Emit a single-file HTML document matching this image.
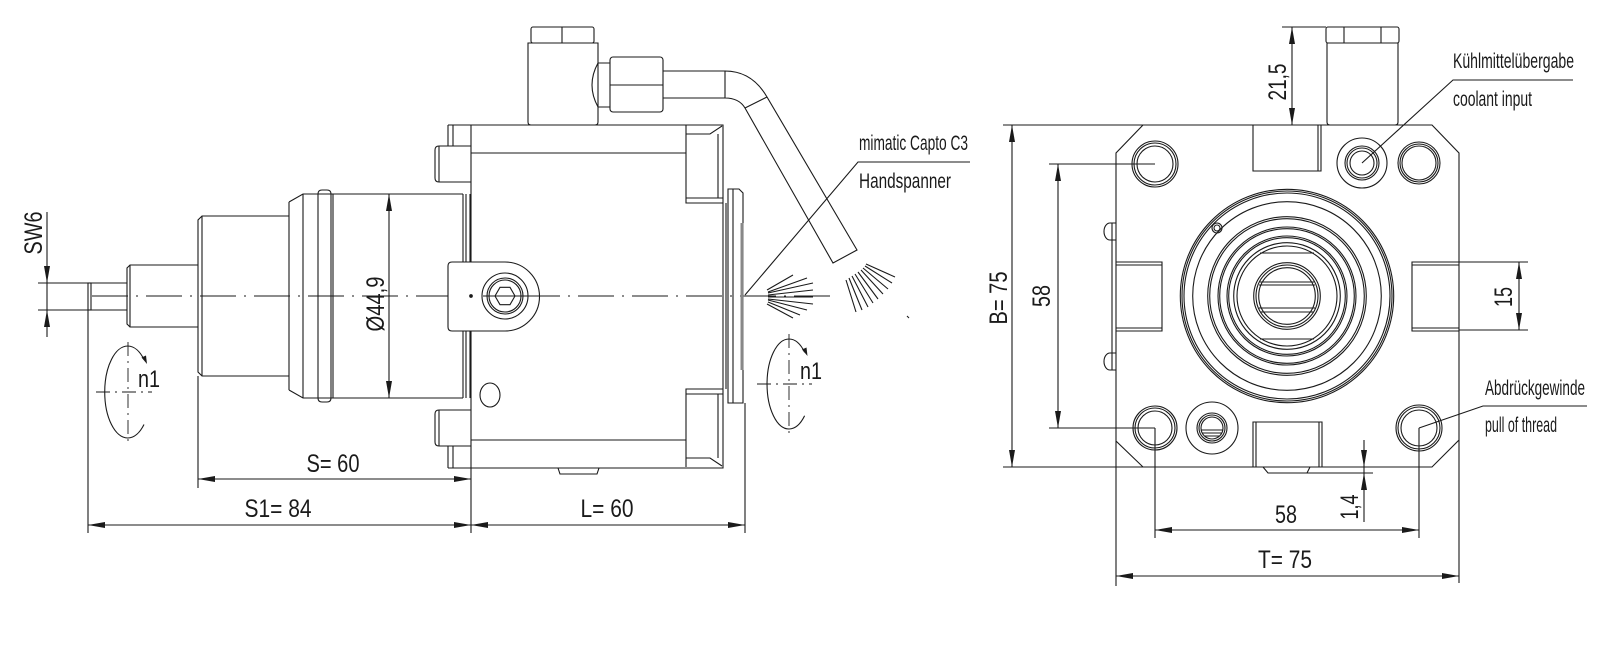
<!DOCTYPE html>
<html><head><meta charset="utf-8"><style>
html,body{margin:0;padding:0;background:#fff;}
svg{display:block;}
text{font-family:"Liberation Sans",sans-serif;fill:#1a1a1a;}
</style></head><body>
<svg width="1600" height="658" viewBox="0 0 1600 658" xmlns="http://www.w3.org/2000/svg">
<rect width="1600" height="658" fill="#fff"/>
<g fill="none" stroke="#1a1a1a" stroke-width="1.1">
<!-- ===== LEFT VIEW ===== -->
<line x1="92" y1="296" x2="838" y2="296" stroke-dasharray="36 8 2 8" stroke-width="0.9"/>
<!-- shaft -->
<rect x="88" y="283" width="3" height="27"/>
<path d="M38 283H127M38 310H127"/>
<!-- step1 -->
<path d="M198 265H130L127 268V324L130 327H198M130 265V327"/>
<!-- step2 -->
<path d="M289 216H202L198 220V372L202 376H289M202 216V376"/>
<!-- flange -->
<path d="M289 202L303 194H463M289 390L303 398H463M289 202V390M303 194V398M318 194V398M331 194V398M333 194V398"/>
<path d="M318 194Q318 190 322 190H327Q331 190 331 194M318 398Q318 402 322 402H327Q331 402 331 398"/>
<path d="M463 194V262M466 194V262M470 194V262M463 331V398M466 331V398M470 331V398"/>
<!-- lug -->
<path d="M452 262H505A34.5 34.5 0 0 1 505 331H452Q448 331 448 327V266Q448 262 452 262Z" fill="#fff"/>
<circle cx="505" cy="296" r="23"/><circle cx="505" cy="296" r="18"/><circle cx="505" cy="296" r="16"/>
<polygon points="515,296 510,304.7 500,304.7 495,296 500,287.3 510,287.3"/>
<line x1="483" y1="296" x2="555" y2="296"/>
<circle cx="471" cy="296" r="1.3" fill="#1a1a1a"/>
<!-- body -->
<path d="M448 125H723V468H448M471 125V262M471 331V468"/>
<path d="M448 125V146M453 125V146M448 446V468M453 446V468"/>
<path d="M471 146H439Q435 146 435 150V178Q435 182 439 182H471M439 146V182"/>
<path d="M471 410H439Q435 410 435 414V442Q435 446 439 446H471M439 410V446"/>
<path d="M471 153H686M471 440H686"/>
<path d="M686 125V203H723M686 198H723M686 134H710L722 126M718 134V198"/>
<path d="M686 467V389H723M686 394H723M686 458H710L722 466M718 394V458"/>
<path d="M726 203V389"/>
<path d="M728 189H739L743 193V403H728ZM733 189V403"/>
<ellipse cx="490" cy="395" rx="10" ry="12"/>
<path d="M558 468L560 474H597L599 468"/>
<!-- coolant fitting -->
<rect x="531" y="27" width="63" height="16" rx="2"/>
<line x1="562" y1="27" x2="562" y2="43"/>
<path d="M528 43H598V122Q598 125 595 125H531Q528 125 528 122Z"/>
<path d="M598 63H610M598 107H610M598 63Q586 85 598 107"/>
<rect x="610" y="57" width="53" height="55" rx="3"/>
<line x1="610" y1="85" x2="663" y2="85"/>
<path d="M663 71H725M663 98H725M725 71V98M725 71Q752 71 767 97L857 250L833 263L745 108Q739 98 725 98M745 108L767 97"/>
<!-- leader -->
<path d="M745 295L858 162H970"/>
<!-- spray left -->
<path d="M767 290L793 275M768 292L807 278M768 293L813 283M768 295L813 290M768 297L813 297M768 299L813 304M768 300L807 310M768 302L800 315M767 304L793 318"/>
<!-- spray right -->
<path d="M846 280L856 312M849 278L862 310M852 276L868 307M855 274L873 303M858 272L878 299M861 270L883 294M863 268L888 289M865 266L892 283M866 264L895 277"/>
<path d="M907 316L909 318"/>
<!-- n1 left -->
<path d="M144 359.5A23 46 0 1 0 144 424.5"/>
<path d="M128 342V444M96 392H152" stroke-dasharray="14 5 2 5" stroke-width="0.9"/>
<!-- n1 right -->
<path d="M804.6 352.2A22 45 0 1 0 804.6 415.8"/>
<path d="M789 334V436M757 384H812" stroke-dasharray="14 5 2 5" stroke-width="0.9"/>
<!-- left dims -->
<path d="M47 212V337"/>
<path d="M389 194V398"/>
<path d="M198 376V488M198 479H471"/>
<path d="M88 310V533M471 468V533M745 403V533M88 525H745"/>

<!-- ===== RIGHT VIEW ===== -->
<path d="M1143 125H1432L1459 153V440L1432 467H1143L1116 441V153Z"/>
<path d="M1003 125H1143M1003 467H1143M1459 440V583M1116 441V586"/>
<path d="M1112 223V370M1116 223H1110A6 8.5 0 0 0 1110 240H1116M1116 353H1110A6 8.5 0 0 0 1110 370H1116"/>
<!-- slots -->
<path d="M1116 262H1162V331H1116M1116 265H1162M1116 328H1162"/>
<path d="M1459 262H1412V331H1459M1412 265H1459M1412 328H1459"/>
<path d="M1253 125V171H1321V125M1318 125V171"/>
<path d="M1253 467V422H1322V467M1256 422V467M1319 422V467M1263 467L1268 473H1307L1310 467M1307 473H1373"/>
<!-- top fitting -->
<rect x="1326" y="27" width="73" height="16" rx="2"/>
<path d="M1344 27V43M1381 27V43"/>
<path d="M1327 43H1398V122Q1398 125 1395 125H1330Q1327 125 1327 122Z"/>
<!-- holes -->
<circle cx="1155" cy="164" r="23"/><circle cx="1155" cy="164" r="21"/><circle cx="1155" cy="164" r="18"/>
<circle cx="1362" cy="163" r="25"/><circle cx="1362" cy="163" r="17"/><circle cx="1362" cy="163" r="15"/><circle cx="1362" cy="163" r="12"/>
<circle cx="1419" cy="163" r="21"/><circle cx="1419" cy="163" r="19"/><circle cx="1419" cy="163" r="17"/>
<circle cx="1155" cy="428" r="22"/><circle cx="1155" cy="428" r="20"/><circle cx="1155" cy="428" r="17"/>
<circle cx="1212" cy="428" r="26"/><circle cx="1212" cy="428" r="15"/><circle cx="1212" cy="428" r="13"/><circle cx="1212" cy="428" r="11"/>
<path d="M1201 430H1223M1202 433H1222M1204.5 436H1219.5"/>
<circle cx="1419" cy="428" r="23"/><circle cx="1419" cy="428" r="21"/><circle cx="1419" cy="428" r="18"/>
<!-- central rings -->
<g>
<circle cx="1287" cy="296" r="106.7"/><circle cx="1287" cy="296" r="105"/><circle cx="1287" cy="296" r="103"/>
<circle cx="1287" cy="296" r="94.3"/>
<circle cx="1287" cy="296" r="79.3"/><circle cx="1287" cy="296" r="77.3"/>
<circle cx="1287" cy="296" r="69"/><circle cx="1287" cy="296" r="67.3"/>
<circle cx="1287" cy="296" r="60"/><circle cx="1287" cy="296" r="58.3"/>
<circle cx="1287" cy="296" r="53.3"/><circle cx="1287" cy="296" r="50"/>
<circle cx="1287" cy="296" r="33.3"/><circle cx="1287" cy="296" r="31"/><circle cx="1287" cy="296" r="28.3"/>
<path d="M1260 253H1314M1260 339H1314"/>
<path d="M1260 282H1314M1259 285H1315M1259 308H1315M1260 312H1314"/>
</g>
<circle cx="1217" cy="228" r="5"/><circle cx="1217" cy="228" r="3"/>
<!-- right dims -->
<path d="M1012 125V467"/>
<path d="M1049 164H1155M1049 428H1155M1058 164V428"/>
<path d="M1282 27H1326M1292 27V125"/>
<path d="M1459 262H1528M1459 330H1528M1519 262V330"/>
<path d="M1364 440V522"/>
<path d="M1155 428V538M1419 428V538M1155 530H1419"/>
<path d="M1116 576H1459"/>
<!-- leaders -->
<path d="M1362 163L1453 80H1573"/>
<path d="M1419 428L1483 406H1587"/>
</g>
<!-- grey face line -->
<line x1="742" y1="223" x2="742" y2="370" stroke="#888" stroke-width="3"/>
<!-- arrowheads -->
<g fill="#1a1a1a" stroke="none">
<polygon points="47,283 44,266 50,266"/><polygon points="47,310 44,327 50,327"/>
<polygon points="389,194 386,211 392,211"/><polygon points="389,398 386,381 392,381"/>
<polygon points="198,479 215,476 215,482"/><polygon points="471,479 454,476 454,482"/>
<polygon points="88,525 105,522 105,528"/><polygon points="471,525 454,522 454,528"/>
<polygon points="471,525 488,522 488,528"/><polygon points="745,525 728,522 728,528"/>
<polygon points="147,364 141.5,357.5 146,355.5"/>
<polygon points="807.5,356 802,349.5 806.5,347.5"/>
<polygon points="1012,125 1009,142 1015,142"/><polygon points="1012,467 1009,450 1015,450"/>
<polygon points="1058,164 1055,181 1061,181"/><polygon points="1058,428 1055,411 1061,411"/>
<polygon points="1292,27 1289,44 1295,44"/><polygon points="1292,125 1289,108 1295,108"/>
<polygon points="1519,262 1516,279 1522,279"/><polygon points="1519,330 1516,313 1522,313"/>
<polygon points="1364,467 1361,450 1367,450"/><polygon points="1364,473 1361,490 1367,490"/>
<polygon points="1155,530 1172,527 1172,533"/><polygon points="1419,530 1402,527 1402,533"/>
<polygon points="1116,576 1133,573 1133,579"/><polygon points="1459,576 1442,573 1442,579"/>
</g>
<!-- texts -->
<g font-size="25" lengthAdjust="spacingAndGlyphs">
<text transform="translate(42 233) rotate(-90)" text-anchor="middle" textLength="43" lengthAdjust="spacingAndGlyphs">SW6</text>
<text transform="translate(384 304) rotate(-90)" text-anchor="middle" textLength="55" lengthAdjust="spacingAndGlyphs">Ø44,9</text>
<text x="333" y="472" text-anchor="middle" textLength="53" lengthAdjust="spacingAndGlyphs">S= 60</text>
<text x="278" y="517" text-anchor="middle" textLength="67" lengthAdjust="spacingAndGlyphs">S1= 84</text>
<text x="607" y="517" text-anchor="middle" textLength="53" lengthAdjust="spacingAndGlyphs">L= 60</text>
<text x="138" y="387" font-size="24" textLength="22" lengthAdjust="spacingAndGlyphs">n1</text>
<text x="800" y="379" font-size="24" textLength="22" lengthAdjust="spacingAndGlyphs">n1</text>
<text transform="translate(1007 298) rotate(-90)" text-anchor="middle" textLength="53" lengthAdjust="spacingAndGlyphs">B= 75</text>
<text transform="translate(1050 296) rotate(-90)" text-anchor="middle" textLength="22" lengthAdjust="spacingAndGlyphs">58</text>
<text transform="translate(1512 297) rotate(-90)" text-anchor="middle" textLength="20" lengthAdjust="spacingAndGlyphs">15</text>
<text transform="translate(1358 507) rotate(-90)" text-anchor="middle" textLength="25" lengthAdjust="spacingAndGlyphs">1,4</text>
<text transform="translate(1286 82) rotate(-90)" text-anchor="middle" textLength="37" lengthAdjust="spacingAndGlyphs">21,5</text>
<text x="1286" y="523" text-anchor="middle" textLength="22" lengthAdjust="spacingAndGlyphs">58</text>
<text x="1285" y="568" text-anchor="middle" textLength="54" lengthAdjust="spacingAndGlyphs">T= 75</text>
</g>
<g font-size="21">
<text x="859" y="150" textLength="109" lengthAdjust="spacingAndGlyphs">mimatic Capto C3</text>
<text x="859" y="188" textLength="92" lengthAdjust="spacingAndGlyphs">Handspanner</text>
<text x="1453" y="68" textLength="121" lengthAdjust="spacingAndGlyphs">Kühlmittelübergabe</text>
<text x="1453" y="106" textLength="79" lengthAdjust="spacingAndGlyphs">coolant input</text>
<text x="1485" y="395" textLength="100" lengthAdjust="spacingAndGlyphs">Abdrückgewinde</text>
<text x="1485" y="432" textLength="72" lengthAdjust="spacingAndGlyphs">pull of thread</text>
</g>
</svg>
</body></html>
